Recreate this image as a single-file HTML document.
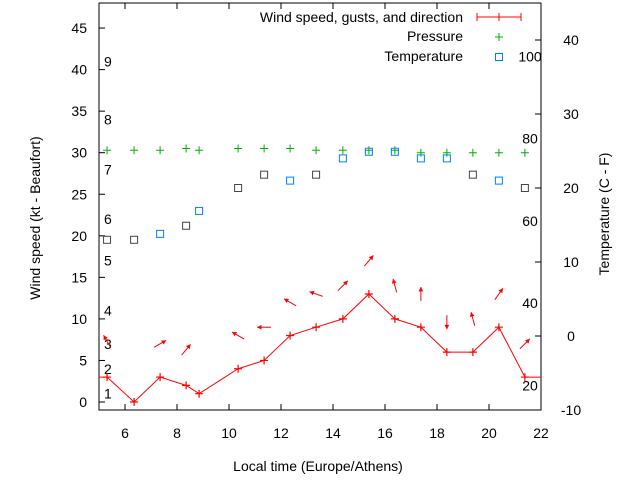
<!DOCTYPE html>
<html><head><meta charset="utf-8"><style>
body{margin:0;background:#fff}
svg text{font-family:"Liberation Sans",sans-serif;font-size:14px;fill:#000}
</style></head><body>
<svg id="c" width="640" height="480" xmlns="http://www.w3.org/2000/svg">
<rect width="640" height="480" fill="#fff"/>
<g id="g"></g>
</svg>
<script>
const hours=[5.31,6.35,7.35,8.35,8.85,10.35,11.35,12.35,13.35,14.38,15.38,16.38,17.38,18.38,19.38,20.38,21.38];
const wind=[3,0,3,2,1,4,5,8,9,10,13,10,9,6,6,9,3];
const arrowHours=[5.31,7.35,8.35,10.35,11.35,12.35,13.35,14.38,15.38,16.38,17.38,18.38,19.38,20.38,21.38];
const gust=[7.3,7,6.3,8,9,12,13,14,17,14,13,9.6,10,13,7];
const dirDeg=[-30,60,40,-60,-90,-60,-70,45,40,-15,0,180,-15,35,45];
const pressHours=hours;
const pressure=[30.3,30.3,30.3,30.5,30.3,30.5,30.5,30.5,30.3,30.3,30.3,30.3,30,30,30,30,30];
const tempC=[13,13,13.8,14.9,16.9,20,21.8,21,21.8,24,24.9,24.9,24,24,21.8,21,20];
const tempBlue=[0,0,1,0,1,0,0,1,0,1,1,1,1,1,0,1,0];
const xTicks=[6,8,10,12,14,16,18,20,22];
const yTicks=[0,5,10,15,20,25,30,35,40,45];
const y2Ticks=[-10,0,10,20,30,40];
const beaufortLabels=[1,2,3,4,5,6,7,8,9];
const beaufortY=[1,4,7,11,17,22,28,34,41];
const fLabels=[20,40,60,80,100];

const L=99,R=541,T=3,B=410;
const X=h=>541-26*(22-h);
const Y=v=>402-v*8.31;
const Y2=c=>336-c*7.4;
const g=document.getElementById('g');
const NS='http://www.w3.org/2000/svg';
function el(t,a,txt){const e=document.createElementNS(NS,t);for(const k in a)e.setAttribute(k,a[k]);if(txt!==undefined)e.textContent=txt;g.appendChild(e);return e;}

let e=el('rect',{x:L,y:T,width:R-L,height:B-T,fill:'none',stroke:'#000','stroke-width':1});


xTicks.forEach(t=>{
  let x=X(t);
  el('line',{x1:x,y1:B,x2:x,y2:B-6,stroke:'#000'});
  el('line',{x1:x,y1:T,x2:x,y2:T+6,stroke:'#000'});
  let tx=el('text',{x:x,y:B+28,'text-anchor':'middle'},t);
  
  
});
yTicks.forEach(t=>{
  let y=Y(t);
  el('line',{x1:L,y1:y,x2:L+6,y2:y,stroke:'#000'});
  let tx=el('text',{x:L-12,y:y+5,'text-anchor':'end'},t);
  
  
});
y2Ticks.forEach(t=>{
  let y=Y2(t);
  el('line',{x1:R,y1:y,x2:R-6,y2:y,stroke:'#000'});
  let tx=el('text',{x:R+30,y:y+5,'text-anchor':'middle'},t);
  
  
});
beaufortLabels.forEach((b,i)=>{
  let tx=el('text',{x:104,y:Y(beaufortY[i])+5},b);
  
  
});
fLabels.forEach(f=>{
  let c=(f-32)*5/9;
  let tx=el('text',{x:530,y:Y2(c)+5,'text-anchor':'middle'},f);
  
  
});
let t1=el('text',{x:318,y:471,'text-anchor':'middle'},'Local time (Europe/Athens)');


let t2=el('text',{x:0,y:0,'text-anchor':'middle',transform:'translate(40,218) rotate(-90)'},'Wind speed (kt - Beaufort)');


let t3=el('text',{x:0,y:0,'text-anchor':'middle',transform:'translate(609,214) rotate(-90)'},'Temperature (C - F)');



// pressure
pressHours.forEach((h,i)=>{
  let x=X(h),y=Y(pressure[i]);
  let p=el('path',{d:`M${x-4},${y}h8M${x},${y-4}v8`,stroke:'#00b000','stroke-width':1});
  
  
});
// temperature
hours.forEach((h,i)=>{
  let x=X(h),y=Y2(tempC[i]);
  let r=el('rect',{x:x-3.5,y:y-3.5,width:7,height:7,fill:'none',stroke:tempBlue[i]?'#0080ff':'#444'});
  
  
});
// wind line
let pts=hours.map((h,i)=>[X(h),Y(wind[i])]);
let d=`M${L},${Y(wind[0])}L`+pts.map(p=>p.join(',')).join(' L')+` L${R},${Y(wind[wind.length-1])}`;
let wl=el('path',{d:d,fill:'none',stroke:'#f00','stroke-width':1});


pts.forEach(p=>{
  let m=el('path',{d:`M${p[0]-4},${p[1]}h8M${p[0]},${p[1]-4}v8`,stroke:'#f00','stroke-width':1.2});
  
  
});
// arrows
arrowHours.forEach((h,i)=>{
  let cx=X(h),cy=Y(gust[i]),a=dirDeg[i]*Math.PI/180,l=7;
  let dx=Math.sin(a)*l,dy=-Math.cos(a)*l;
  let hx=cx+dx,hy=cy+dy;
  let ah=(ang)=>[hx-Math.sin(a+ang)*5,hy+Math.cos(a+ang)*5];
  let p1=ah(0.5),p2=ah(-0.5);
  let gEl=el('g',{});
  
  
  let ln=document.createElementNS(NS,'line');
  ln.setAttribute('x1',cx-dx);ln.setAttribute('y1',cy-dy);ln.setAttribute('x2',hx);ln.setAttribute('y2',hy);ln.setAttribute('stroke','#f00');
  gEl.appendChild(ln);
  let pg=document.createElementNS(NS,'polygon');
  pg.setAttribute('points',`${hx},${hy} ${p1[0]},${p1[1]} ${p2[0]},${p2[1]}`);pg.setAttribute('fill','#f00');
  gEl.appendChild(pg);
});
// legend
let lg1=el('text',{x:463,y:22,'text-anchor':'end'},'Wind speed, gusts, and direction');


el('path',{d:'M477,17h44M477,13v8M521,13v8M499,13v8',stroke:'#f00'});
let lg2=el('text',{x:463,y:41,'text-anchor':'end'},'Pressure');


el('path',{d:'M495,37h8M499,33v8',stroke:'#00b000'});
let lg3=el('text',{x:463,y:61,'text-anchor':'end'},'Temperature');


el('rect',{x:495.5,y:53.5,width:7,height:7,fill:'none',stroke:'#0080ff'});
</script>
</body></html>
